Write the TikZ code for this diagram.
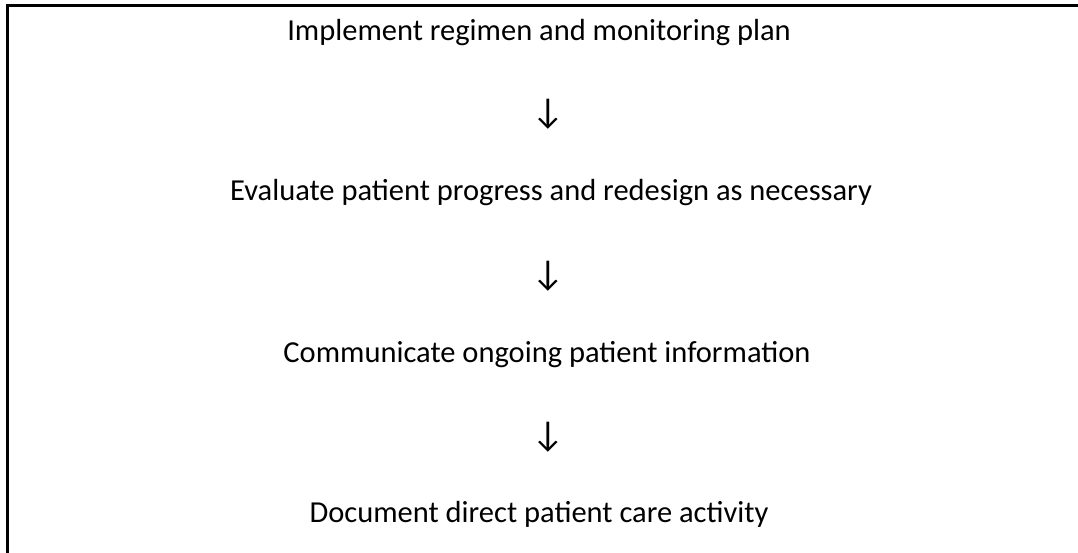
\documentclass[tikz,border=0pt]{standalone}
\usepackage{fontspec}
\setmainfont{Carlito}
\begin{document}
\begin{tikzpicture}[x=1pt,y=-1pt,
  stepbox/.style={font=\fontsize{30.5}{34}\selectfont, inner sep=0pt, anchor=base},
  arrowtxt/.style={font=\fontsize{36}{40}\selectfont, inner sep=0pt, anchor=base},
  frame/.style={line width=2.6pt, line cap=rect}]
\useasboundingbox (0,0) rectangle (1078,553);
\coordinate (tl) at (7.5,5.5);
\coordinate (tr) at (1078,5.5);
\coordinate (bl) at (7.5,553);
\draw[frame] (tr) -- (tl) -- (bl);
\node[stepbox] (s1) at (539,41) {Implement regimen and monitoring plan};
\node[arrowtxt] (a1) at (548,124) {↓};
\node[stepbox] (s2) at (551,201) {Evaluate patient progress and redesign as necessary};
\node[arrowtxt] (a2) at (548,285) {↓};
\node[stepbox] (s3) at (547,362) {Communicate ongoing patient information};
\node[arrowtxt] (a3) at (548,446) {↓};
\node[stepbox] (s4) at (539,522) {Document direct patient care activity};
\end{tikzpicture}
\end{document}
